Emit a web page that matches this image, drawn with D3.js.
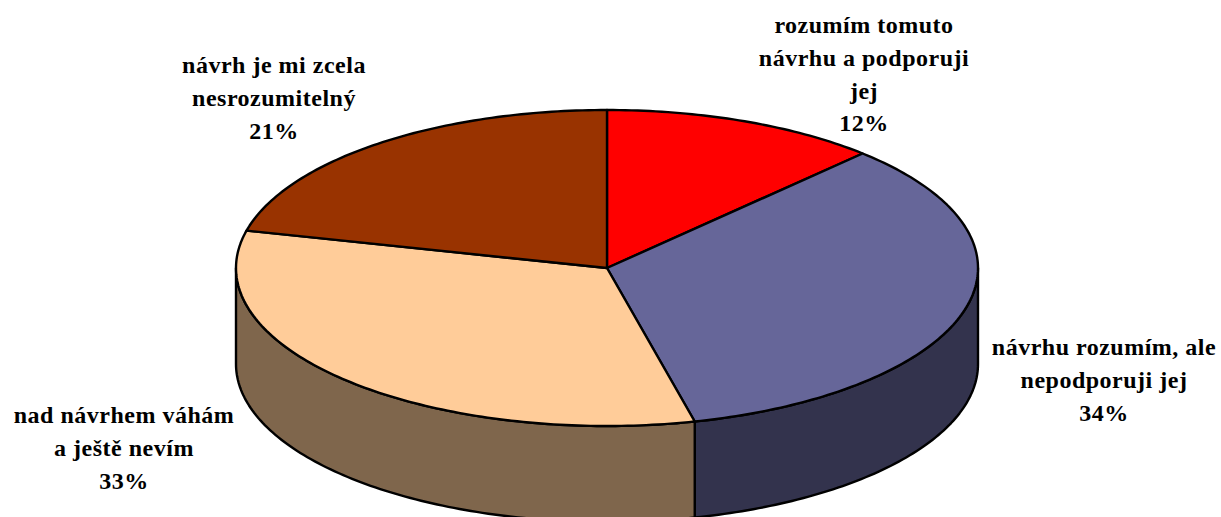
<!DOCTYPE html>
<html>
<head>
<meta charset="utf-8">
<script src="https://cdn.jsdelivr.net/npm/d3@7"></script>
<style>
  html, body { margin: 0; background: #fff; overflow: hidden; }
  svg { display: block; }
  text { font-family: "Liberation Serif", serif; font-weight: bold; font-size: 24px; fill: #000; }
</style>
</head>
<body>
<div id="chart"></div>
<script>
const categories = [
  "rozumím tomuto návrhu a podporuji jej",
  "návrhu rozumím, ale nepodporuji jej",
  "nad návrhem váhám a ještě nevím",
  "návrh je mi zcela nesrozumitelný"
];
// slice sizes, the labels show them rounded
const values = [12.1, 34.1, 32.6, 21.2];
const topColors = ["#ff0000", "#666699", "#ffcc99", "#993300"];
const sideColors = ["#7f0000", "#33334d", "#7f664c", "#4d1a00"];

// wrapped lines of each label
const labelLines = [
  ["rozumím tomuto", "návrhu a podporuji", "jej"],
  ["návrhu rozumím, ale", "nepodporuji jej"],
  ["nad návrhem váhám", "a ještě nevím"],
  ["návrh je mi zcela", "nesrozumitelný"]
];

const width = 1221, height = 517;
const cx = 607, cy = 268, rx = 371, ry = 158, depth = 96;
const lineStep = 32.8;

// centre x and first baseline of each label
const labelPos = [[864, 33], [1104, 355], [124, 423], [274, 73]];

const svg = d3.select("#chart").append("svg")
  .attr("width", width)
  .attr("height", height);

const x = d3.scaleLinear().domain([-1, 1]).range([cx - rx, cx + rx]);
const y = d3.scaleLinear().domain([-1, 1]).range([cy - ry, cy + ry]);

const arcs = d3.pie().sort(null).value(d => d)(values);

// angle runs clockwise from the top, like d3.pie
const px = a => x(Math.sin(a));
const py = a => y(-Math.cos(a));

function rim(a0, a1) {
  const n = Math.max(2, Math.ceil((a1 - a0) * 60));
  return d3.range(n + 1).map(i => a0 + (a1 - a0) * i / n);
}

const line = d3.line();

// side wall, only the part of the rim facing the viewer
const sides = svg.append("g");
arcs.forEach((d, i) => {
  const a0 = Math.max(d.startAngle, Math.PI / 2);
  const a1 = Math.min(d.endAngle, Math.PI * 1.5);
  if (a0 >= a1) return;
  const top = rim(a0, a1).map(a => [px(a), py(a)]);
  const bottom = rim(a0, a1).reverse().map(a => [px(a), py(a) + depth]);
  sides.append("path")
    .attr("d", line(top.concat(bottom)) + "Z")
    .attr("fill", sideColors[i])
    .attr("stroke", "#000")
    .attr("stroke-width", 2.4)
    .attr("stroke-linejoin", "round");
});

// top face
svg.append("g").selectAll("path")
  .data(arcs)
  .enter().append("path")
  .attr("d", d => {
    const pts = rim(d.startAngle, d.endAngle).map(a => [px(a), py(a)]);
    return line([[x(0), y(0)]].concat(pts)) + "Z";
  })
  .attr("fill", (d, i) => topColors[i])
  .attr("stroke", "#000")
  .attr("stroke-width", 2.4)
  .attr("stroke-linejoin", "round");

// labels
const labels = svg.append("g").selectAll("text")
  .data(arcs)
  .enter().append("text")
  .attr("text-anchor", "middle")
  .attr("letter-spacing", 0.5);

labels.each(function(d, i) {
  const t = d3.select(this);
  labelLines[i].concat(Math.round(d.value) + "%").forEach((s, k) => {
    t.append("tspan")
      .attr("x", labelPos[i][0])
      .attr("y", labelPos[i][1] + k * lineStep)
      .text(s);
  });
});
</script>
</body>
</html>
